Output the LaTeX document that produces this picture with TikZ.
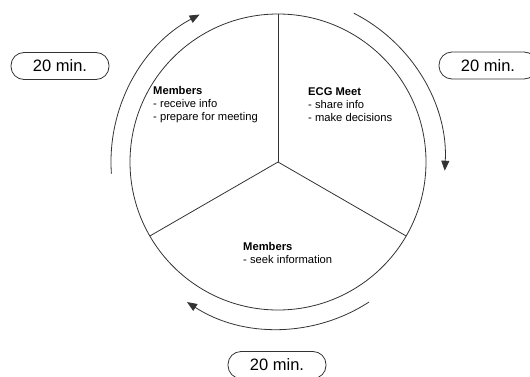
\documentclass[tikz,border=0pt]{standalone}
\usepackage{fontspec}
\setmainfont{Liberation Sans}
\usetikzlibrary{arrows.meta,calc}
\begin{document}
\begin{tikzpicture}[x=1pt,y=1pt,
  line/.style={draw=black!80,line width=0.8pt},
  cyclearrow/.style={line,-{Triangle[length=10pt,width=8pt]}},
  timebox/.style={draw=black!80,line width=0.8pt,rounded corners=13pt,minimum width=98pt,minimum height=27pt,inner sep=0pt,font=\fontsize{16.5}{19}\selectfont},
  phasetext/.style={anchor=north west,align=left,inner sep=0pt,font=\fontsize{11.2}{13}\selectfont}]
\useasboundingbox (0,0) rectangle (530,376);
\coordinate (C) at (278,214);
\draw[line] (C) circle[radius=148];
\coordinate (T) at ($(C)+(90:148)$);
\coordinate (L) at ($(C)+(210:148)$);
\coordinate (R) at ($(C)+(330:148)$);
\draw[line] (C) -- (T);
\draw[line] (C) -- (L);
\draw[line] (C) -- (R);
% cycle arrows
\coordinate (A1) at ($(C)+(184:167)$);
\coordinate (A2) at ($(C)+(63:167)$);
\coordinate (A3) at ($(C)+(-57:167)$);
\draw[cyclearrow] (A1) arc[start angle=184,end angle=118,radius=167];
\draw[cyclearrow] (A2) arc[start angle=63,end angle=-3,radius=167];
\draw[cyclearrow] (A3) arc[start angle=-57,end angle=-123,radius=167];
% time boxes
\node[timebox] (b1) at (60,310) {20 min.};
\node[timebox] (b2) at (488,310.5) {20 min.};
\node[timebox] (b3) at (277,11) {20 min.};
% phase texts
\node[phasetext] (p1) at (153,290) {\textbf{Members}\\- receive info\\- prepare for meeting};
\node[phasetext] (p2) at (308,289) {\textbf{ECG Meet}\\- share info\\- make decisions};
\node[phasetext] (p3) at (243,134) {\textbf{Members}\\- seek information};
\end{tikzpicture}
\end{document}
